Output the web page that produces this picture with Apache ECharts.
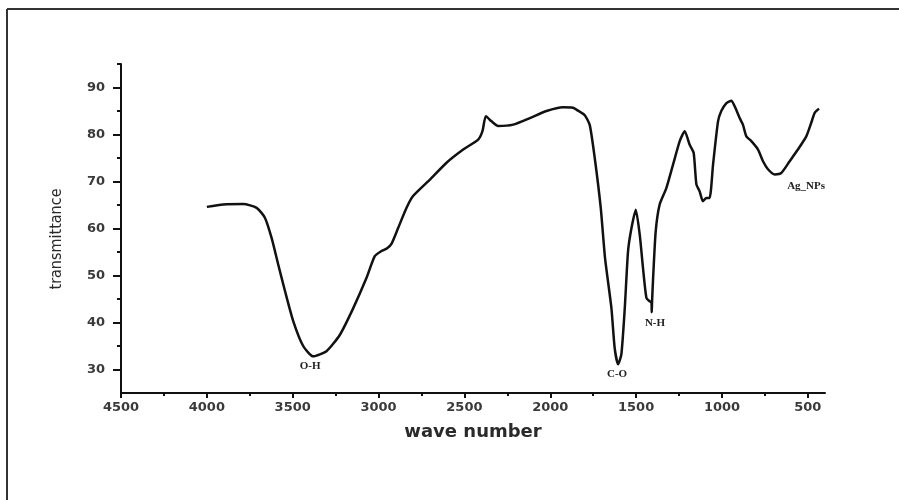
<!DOCTYPE html>
<html>
<head>
<meta charset="utf-8">
<title>FTIR spectrum</title>
<script src="https://cdn.jsdelivr.net/npm/echarts@6.0.0/dist/echarts.min.js"></script>
<style>
  html, body { margin: 0; padding: 0; background: #fff; }
  #chart { width: 899px; height: 500px; }
</style>
</head>
<body>
<div id="chart"></div>
<script>
// wave number (cm-1)
const waveNumber = [
  4000, 3905, 3788, 3710, 3662, 3623, 3584, 3545, 3497, 3439,
  3381, 3303, 3225, 3148, 3070, 3022, 2983, 2950, 2924, 2886,
  2837, 2799, 2701, 2604, 2507, 2420, 2395, 2375, 2342, 2304,
  2216, 2119, 2022, 1925, 1867, 1848, 1799, 1770, 1741, 1706,
  1681, 1644, 1625, 1605, 1586, 1566, 1547, 1527, 1502, 1479,
  1460, 1440, 1421, 1411, 1409, 1407, 1401, 1386, 1363, 1324,
  1285, 1246, 1217, 1188, 1165, 1149, 1130, 1111, 1091, 1072,
  1052, 1023, 1004, 974, 945, 926, 897, 878, 858, 829,
  790, 761, 732, 693, 655, 606, 558, 509, 480, 460, 435
]
// transmittance (%)
const transmittance = [
  64.6, 65.1, 65.2, 64.4, 62.3, 58.0, 52.3, 46.7, 40.3, 35.0,
  32.8, 33.9, 37.4, 43.0, 49.5, 54.1, 55.2, 55.8, 56.8, 60.1,
  64.4, 66.9, 70.4, 74.0, 76.8, 78.9, 80.7, 83.9, 82.8, 81.8,
  82.1, 83.5, 85.0, 85.8, 85.7, 85.3, 84.1, 82.0, 75.0, 64.4,
  53.7, 43.1, 34.6, 31.1, 33.2, 43.1, 55.2, 60.1, 64.0, 58.7,
  51.6, 45.2, 44.5, 44.3, 42.2, 44.6, 49.5, 59.4, 65.1, 68.6,
  73.6, 78.6, 80.7, 77.8, 76.1, 69.4, 67.9, 65.8, 66.5, 66.5,
  73.6, 82.8, 85.0, 86.7, 87.2, 86.0, 83.5, 82.1, 79.6, 78.6,
  76.8, 74.3, 72.6, 71.5, 71.8, 74.3, 76.8, 79.6, 82.5, 84.6, 85.5
]

// tick labels
const xTicks = [4500, 4000, 3500, 3000, 2500, 2000, 1500, 1000, 500]
const xMinorTicks = [4250, 3750, 3250, 2750, 2250, 1750, 1250, 750]
const yTicks = [30, 40, 50, 60, 70, 80, 90]
const yMinorTicks = [35, 45, 55, 65, 75, 85, 95]

// band labels
const bandNames = ['O-H', 'C-O', 'N-H', 'Ag_NPs']
const bandWave = [3399, 1611, 1390, 510]
const bandValue = [30.7, 29.0, 39.9, 69.0]

const chart = echarts.init(document.getElementById('chart'))

const axisColor = '#111'
const tickFont = {
  fontFamily: 'DejaVu Sans',
  fontWeight: 'bold',
  fontSize: 13,
  color: '#3a3a3a',
  formatter: v => String(v)
}

const option = {
  backgroundColor: '#fff',
  animation: false,
  grid: { left: 121, right: 74, top: 64, bottom: 107 },
  xAxis: [
    {
      type: 'value',
      min: 400,
      max: 4500,
      inverse: true,
      name: 'wave number',
      nameLocation: 'middle',
      nameGap: 30,
      nameTextStyle: {
        fontFamily: 'DejaVu Sans',
        fontWeight: 'bold',
        fontSize: 18,
        color: '#2a2a2a'
      },
      axisLine: { show: true, lineStyle: { color: axisColor, width: 2 } },
      axisTick: { show: true, customValues: xTicks, length: 5, lineStyle: { color: axisColor, width: 2 } },
      axisLabel: { customValues: xTicks, margin: 8, ...tickFont },
      splitLine: { show: false }
    },
    {
      type: 'value',
      min: 400,
      max: 4500,
      inverse: true,
      position: 'bottom',
      axisLine: { show: false },
      axisTick: { show: true, customValues: xMinorTicks, length: 3, lineStyle: { color: axisColor, width: 2 } },
      axisLabel: { show: false },
      splitLine: { show: false }
    }
  ],
  yAxis: [
    {
      type: 'value',
      min: 25,
      max: 95,
      axisLine: { show: true, lineStyle: { color: axisColor, width: 2 } },
      axisTick: { show: true, customValues: yTicks, length: 8, lineStyle: { color: axisColor, width: 2 } },
      axisLabel: { customValues: yTicks, margin: 16, ...tickFont },
      splitLine: { show: false }
    },
    {
      type: 'value',
      min: 25,
      max: 95,
      position: 'left',
      axisLine: { show: false },
      axisTick: { show: true, customValues: yMinorTicks, length: 4, lineStyle: { color: axisColor, width: 2 } },
      axisLabel: { show: false },
      splitLine: { show: false }
    }
  ],
  graphic: [
    // outer frame (top and left edges visible)
    { type: 'line', shape: { x1: 7, y1: 9, x2: 899, y2: 9 }, style: { stroke: '#333', lineWidth: 2 } },
    { type: 'line', shape: { x1: 7, y1: 9, x2: 7, y2: 500 }, style: { stroke: '#333', lineWidth: 2 } },
    {
      type: 'text',
      x: 57,
      y: 239,
      rotation: Math.PI / 2,
      style: {
        text: 'transmittance',
        fontFamily: "'Liberation Sans Narrow', 'DejaVu Sans Condensed', sans-serif",
        fontSize: 16,
        fill: '#2a2a2a',
        align: 'center',
        verticalAlign: 'middle'
      }
    }
  ],
  series: [
    {
      type: 'line',
      xAxisIndex: 0,
      yAxisIndex: 0,
      data: waveNumber.map((w, i) => [w, transmittance[i]]),
      showSymbol: false,
      smooth: 0.2,
      lineStyle: { color: '#111', width: 2.5 },
      markPoint: {
        symbol: 'circle',
        symbolSize: 0,
        label: {
          show: true,
          position: 'inside',
          formatter: '{b}',
          fontFamily: "'Liberation Serif', serif",
          fontWeight: 'bold',
          fontSize: 11,
          color: '#222'
        },
        data: bandNames.map((n, i) => ({ name: n, coord: [bandWave[i], bandValue[i]] }))
      }
    }
  ]
}

chart.setOption(option)
</script>
</body>
</html>
